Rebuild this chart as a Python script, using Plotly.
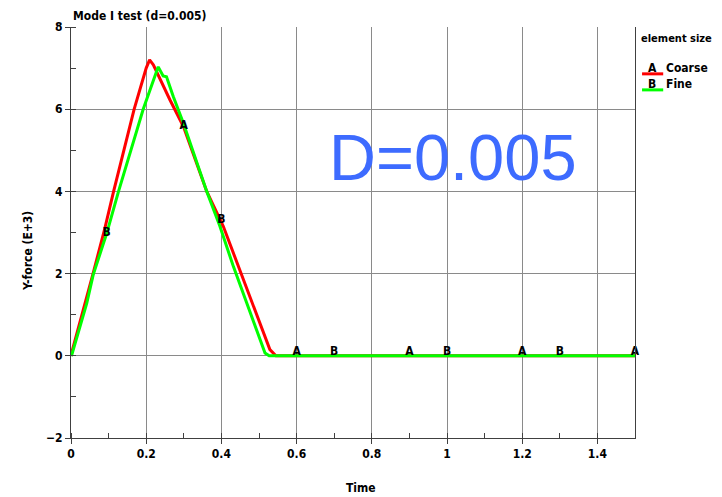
import plotly.graph_objects as go

# ---- data ----
time_coarse = [0, 0.006, 0.059, 0.09, 0.113, 0.168, 0.2, 0.209, 0.219, 0.263, 0.299, 0.361,
               0.405, 0.432, 0.467, 0.529, 0.545, 0.6, 0.9, 1.2, 1.5]
force_coarse = [0, 0.22, 2.01, 3.1, 3.99, 6.0, 7.0, 7.2, 7.08, 6.23, 5.58, 4.0,
                3.15, 2.5, 1.69, 0.15, 0.0, 0.0, 0.0, 0.0, 0.0]

time_fine = [0, 0.002, 0.042, 0.059, 0.095, 0.126, 0.192, 0.232, 0.245, 0.254, 0.272,
             0.299, 0.361, 0.396, 0.432, 0.516, 0.527, 0.7, 1.0, 1.3, 1.5]
force_fine = [0, 0.02, 1.28, 1.97, 2.98, 3.99, 6.0, 7.03, 6.81, 6.79, 6.31,
              5.66, 4.0, 3.15, 2.17, 0.07, 0.0, 0.0, 0.0, 0.0, 0.0]

label_x_coarse = [0.3, 0.6, 0.9, 1.2, 1.5]
label_y_coarse = [5.6, 0.1, 0.1, 0.1, 0.1]
label_x_fine = [0.095, 0.4, 0.7, 1.0, 1.3]
label_y_fine = [3.0, 3.3, 0.1, 0.1, 0.1]

series_names = ["Coarse", "Fine"]
series_letters = ["A", "B"]
series_colors = ["#ff0000", "#00ff00"]

x_range = [0, 1.5]
y_range = [-2, 8]

FONT = "DejaVu Sans Condensed, Liberation Sans Narrow, Arial Narrow, sans-serif"

fig = go.Figure()
fig.add_trace(go.Scatter(x=time_coarse, y=force_coarse, mode="lines",
                         line=dict(color=series_colors[0], width=3), showlegend=False))
fig.add_trace(go.Scatter(x=time_fine, y=force_fine, mode="lines",
                         line=dict(color=series_colors[1], width=3), showlegend=False))
fig.add_trace(go.Scatter(x=label_x_coarse, y=label_y_coarse, mode="text",
                         text=[series_letters[0]] * len(label_x_coarse),
                         textfont=dict(family=FONT, size=12, color="black", weight="bold"),
                         textposition="middle center", showlegend=False, cliponaxis=False))
fig.add_trace(go.Scatter(x=label_x_fine, y=label_y_fine, mode="text",
                         text=[series_letters[1]] * len(label_x_fine),
                         textfont=dict(family=FONT, size=12, color="black", weight="bold"),
                         textposition="middle center", showlegend=False, cliponaxis=False))

axis_common = dict(
    showgrid=True, gridcolor="#8a8a8a", gridwidth=1,
    showline=True, linecolor="#404040", linewidth=1,
    ticks="outside", ticklen=5, tickcolor="#404040",
    zeroline=False,
    tickfont=dict(family=FONT, size=12, color="black", weight="bold"),
)

fig.update_xaxes(range=x_range, dtick=0.2, tick0=0,
                 minor=dict(dtick=0.1, ticks="inside", ticklen=5, tickcolor="#404040", showgrid=False),
                 **axis_common)
fig.update_yaxes(range=y_range, dtick=2, tick0=0, mirror=True,
                 minor=dict(dtick=1, ticks="inside", ticklen=5, tickcolor="#404040", showgrid=False),
                 **axis_common)

annotations = [
    dict(text="<b>Mode I test (d=0.005)</b>", xref="paper", yref="paper", x=0, y=1,
         xanchor="left", yanchor="bottom", yshift=2, showarrow=False,
         font=dict(family=FONT, size=12, color="black")),
    dict(text="<b>Time</b>", xref="paper", yref="paper", x=0.514, y=0, yshift=-50,
         xanchor="center", yanchor="middle", showarrow=False,
         font=dict(family=FONT, size=12, color="black")),
    dict(text="<b>Y-force (E+3)</b>", xref="paper", yref="paper", x=0, xshift=-43, y=0.455,
         xanchor="center", yanchor="middle", textangle=-90, showarrow=False,
         font=dict(family=FONT, size=12, color="black")),
    dict(text="D=0.005", xref="paper", yref="paper", x=0.677, y=0.683,
         xanchor="center", yanchor="middle", showarrow=False,
         font=dict(family="Liberation Sans, Arial, sans-serif", size=65, color="#3d6bff")),
    dict(text="<b>element size</b>", xref="paper", yref="paper", x=1, xshift=4, y=0.972,
         xanchor="left", yanchor="middle", showarrow=False,
         font=dict(family=FONT, size=11, color="black")),
]

shapes = []
legend_y = [0.886, 0.847]
for i in range(2):
    annotations.append(dict(text="<b>" + series_letters[i] + "</b>", xref="paper", yref="paper",
                            x=1, xshift=17, y=legend_y[i] + 0.014, xanchor="center", yanchor="middle",
                            showarrow=False, font=dict(family=FONT, size=12, color="black")))
    annotations.append(dict(text="<b>" + series_names[i] + "</b>", xref="paper", yref="paper",
                            x=1, xshift=29, y=legend_y[i] + 0.014, xanchor="left", yanchor="middle",
                            showarrow=False, font=dict(family=FONT, size=12, color="black")))
    shapes.append(dict(type="line", xref="paper", yref="paper",
                       x0=1.0125, x1=1.05, y0=legend_y[i], y1=legend_y[i],
                       line=dict(color=series_colors[i], width=3)))

fig.update_layout(
    width=722, height=497,
    margin=dict(l=71, r=87, t=27, b=59),
    paper_bgcolor="white", plot_bgcolor="white",
    annotations=annotations, shapes=shapes,
    showlegend=False,
)

fig.write_html("out.html")
